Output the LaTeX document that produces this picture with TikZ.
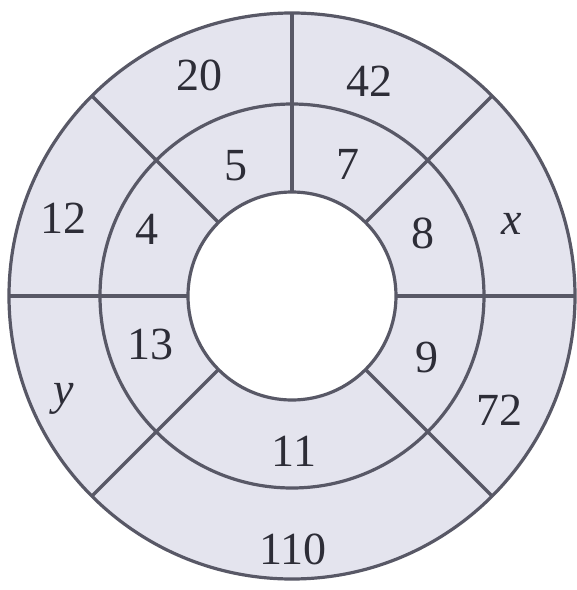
\documentclass[tikz,border=0pt]{standalone}
\usepackage{fontspec}
\setmainfont{Liberation Serif}
\usetikzlibrary{positioning}
\definecolor{ringfill}{RGB}{228,228,238}
\definecolor{ringline}{RGB}{88,88,102}
\definecolor{numtext}{RGB}{45,45,55}

\begin{document}
\begin{tikzpicture}[x=1pt,y=1pt,
  divider/.style={draw=ringline,line width=3.2pt},
  num/.style={font=\fontsize{46}{50}\selectfont,text=numtext,inner sep=0pt}]
\useasboundingbox (-292,-294) rectangle (285,296);
% ring
\fill[ringfill,even odd rule] (0,0) circle (283) (0,0) circle (104);
\draw[divider] (0,0) circle (283);
\draw[divider] (0,0) circle (192);
\draw[divider] (0,0) circle (104);
\foreach \a in {90,45,0,-45,-135,180,135}
  \draw[divider] (\a:104) -- (\a:283);
% outer ring
\node[num] (o20) at (-92,221) {20};
\node[num] (o42) at (78,215) {42};
\node[num] (ox) at (220,72) {\itshape x};
\node[num] (o72) at (208,-114) {72};
\node[num] (o110) at (1,-253) {110};
\node[num] (oy) at (-228,-103) {\itshape y};
\node[num] (o12) at (-228,78) {12};
% middle ring
\node[num] (m5) at (-56,130) {5};
\node[num] (m7) at (56,132) {7};
\node[num] (m8) at (131,63) {8};
\node[num] (m9) at (135,-61) {9};
\node[num] (m11) at (2,-155) {11};
\node[num] (m13) at (-141,-48) {13};
\node[num] (m4) at (-145,67) {4};
\end{tikzpicture}
\end{document}
